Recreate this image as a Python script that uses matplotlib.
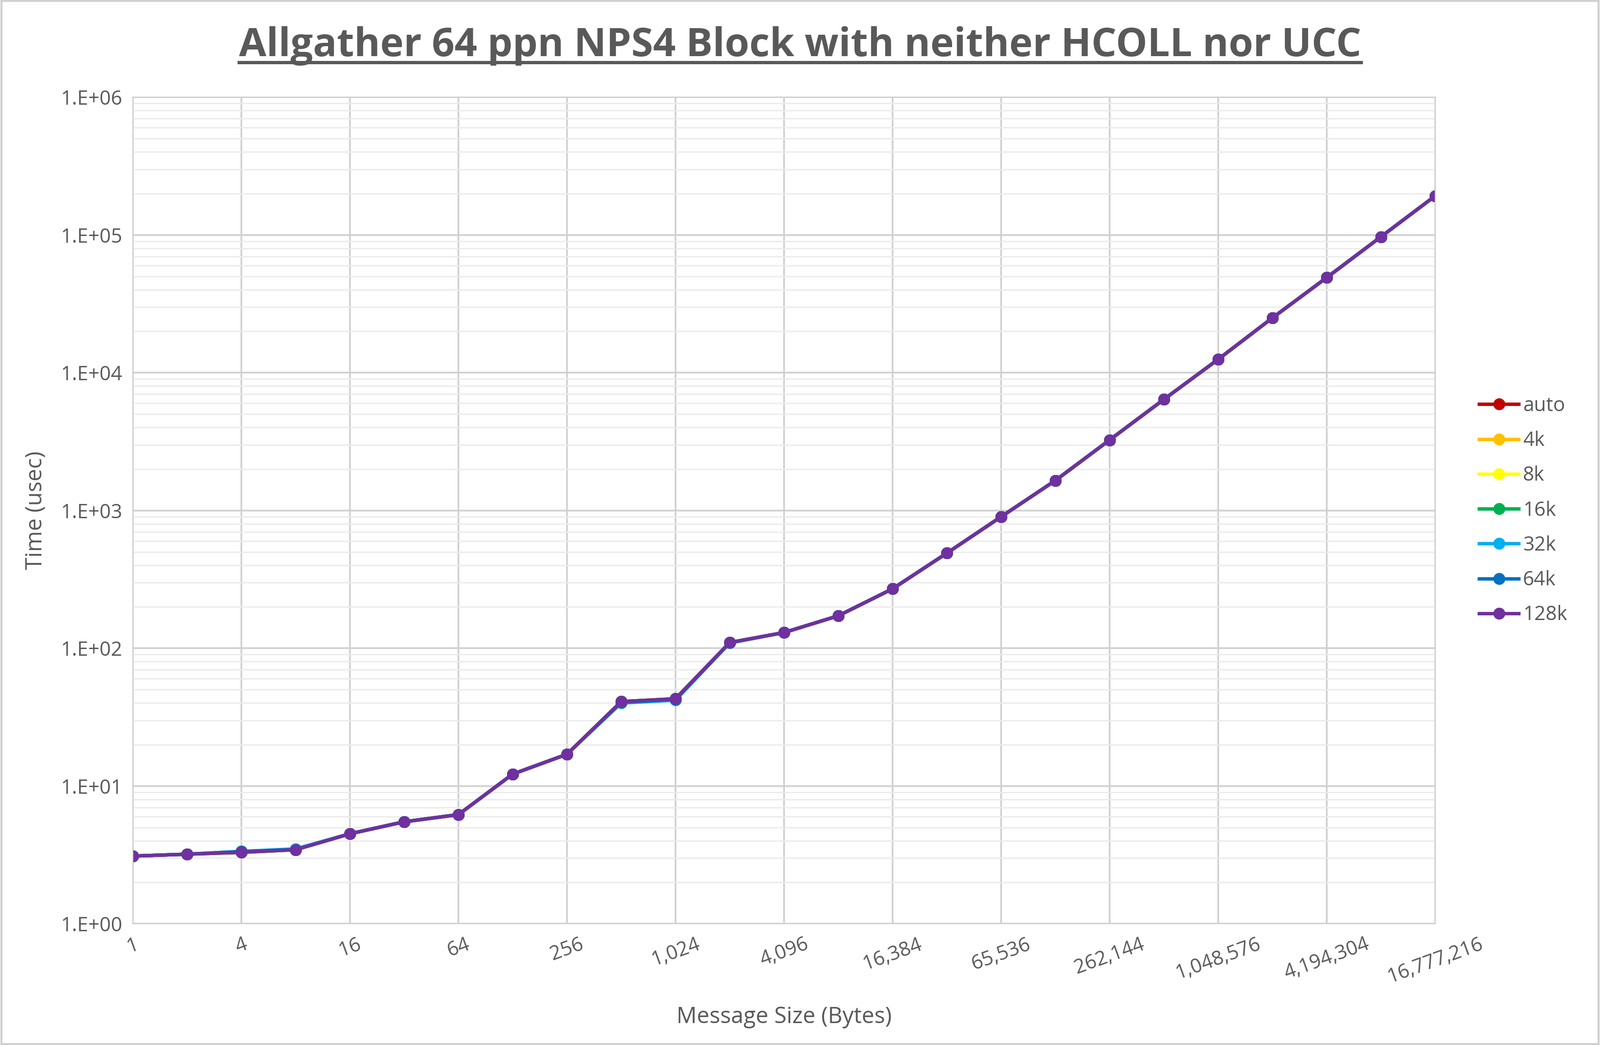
import numpy as np
import matplotlib.pyplot as plt
from matplotlib.ticker import FixedLocator, LogLocator, NullFormatter

plt.rcParams['font.family'] = 'Open Sans'

# message sizes as powers of two
exponents = list(range(0, 25))
sizes = [2 ** e for e in exponents]
tick_labels = ['1', '4', '16', '64', '256', '1,024', '4,096', '16,384', '65,536',
               '262,144', '1,048,576', '4,194,304', '16,777,216']

t_128k = [3.1, 3.2, 3.3, 3.45, 4.5, 5.5, 6.2, 12.2, 17, 41, 43, 110, 130, 172, 270,
          490, 900, 1650, 3250, 6400, 12500, 25000, 49000, 97000, 192000]
t_64k = [3.1, 3.2, 3.35, 3.45, 4.5, 5.5, 6.2, 12.2, 17, 40.5, 42.5, 110, 130, 172, 270,
         490, 900, 1650, 3250, 6400, 12500, 25000, 49000, 97000, 192000]
t_32k = [3.1, 3.2, 3.35, 3.5, 4.5, 5.5, 6.2, 12.2, 17, 40, 42, 109, 130, 172, 270,
         490, 900, 1650, 3250, 6400, 12500, 25000, 49000, 97000, 192000]
t_16k = [3.1, 3.2, 3.3, 3.45, 4.5, 5.5, 6.2, 12.2, 17, 41, 43, 110, 130, 172, 270,
         490, 900, 1650, 3250, 6400, 12500, 25000, 49000, 97000, 192000]
t_8k = t_16k
t_4k = t_16k
t_auto = t_16k

series = [('auto', t_auto, '#C00000'), ('4k', t_4k, '#FFC000'), ('8k', t_8k, '#FFFF00'),
          ('16k', t_16k, '#00B050'), ('32k', t_32k, '#00B0F0'), ('64k', t_64k, '#0070C0'),
          ('128k', t_128k, '#7030A0')]

fig = plt.figure(figsize=(16.805, 10.98), dpi=200)
ax = fig.add_axes([0.083, 0.116, 0.814, 0.791])

for name, vals, col in series:
    ax.plot(exponents, vals, color=col, lw=2.6, marker='o', ms=8, label=name)

ax.set_yscale('log')
ax.set_ylim(1, 1e6)
ax.set_xlim(0, 24)
ax.xaxis.set_major_locator(FixedLocator(range(0, 25, 2)))
ax.set_xticklabels(tick_labels, rotation=20, ha='center', va='top')
ax.yaxis.set_major_locator(LogLocator(base=10, numticks=10))
ax.yaxis.set_minor_locator(LogLocator(base=10, subs=np.arange(2, 10), numticks=100))
ax.yaxis.set_minor_formatter(NullFormatter())
ax.set_yticklabels([f'1.E+{i:02d}' for i in range(7)])
ax.set_yticks([10 ** i for i in range(7)])
ax.set_yticklabels([f'1.E+{i:02d}' for i in range(7)])

ax.grid(True, which='major', color='#D0D0D0', lw=1.3)
ax.grid(True, which='minor', axis='y', color='#EBEBEB', lw=1.0)
ax.set_axisbelow(True)
for s in ax.spines.values():
    s.set_color('#D0D0D0')
ax.tick_params(which='both', length=0, colors='#595959', labelsize=15, pad=8)

ax.set_xlabel('Message Size (Bytes)', fontsize=17, color='#595959', labelpad=14)
ax.set_ylabel('Time (usec)', fontsize=17, color='#595959', labelpad=10)
fig.suptitle('Allgather 64 ppn NPS4 Block with neither HCOLL nor UCC', y=0.975,
             fontsize=30, fontweight='bold', color='#595959')
# underline the title
fig.canvas.draw()
t = fig._suptitle
bb = t.get_window_extent().transformed(fig.transFigure.inverted())
fig.add_artist(plt.Line2D([bb.x0, bb.x1], [bb.y0 + 0.003, bb.y0 + 0.003],
                          color='#595959', lw=2.5, transform=fig.transFigure))

leg = ax.legend(loc='center left', bbox_to_anchor=(1.02, 0.5), frameon=False,
                fontsize=15, labelcolor='#595959', handlelength=2.0, labelspacing=0.75,
                handletextpad=0.2)

fig.add_artist(plt.Rectangle((0.001, 0.001), 0.998, 0.998, fill=False,
                             edgecolor='#D0D0D0', lw=1.5, transform=fig.transFigure))
fig.savefig('out.png', dpi=200)
